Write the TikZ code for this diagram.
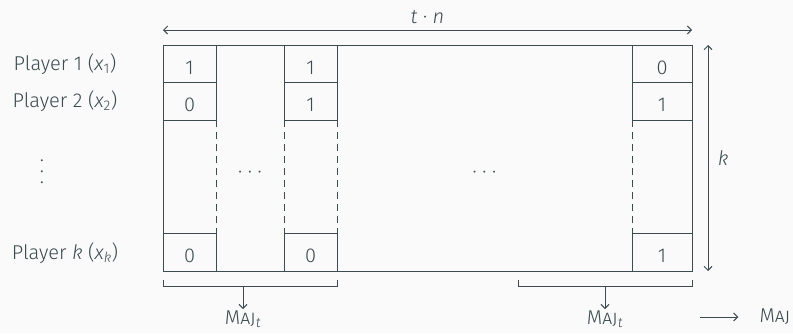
\documentclass[tikz,border=0pt]{standalone}
\usepackage{fontspec}
\setmainfont{Fira Sans}[UprightFont={* Light},ItalicFont={* Light Italic}]
\usetikzlibrary{positioning,arrows.meta}

\definecolor{ink}{HTML}{3B4B50}
\definecolor{paper}{HTML}{FAFAFA}

\newcommand{\maj}{\textsc{Maj}}

\begin{document}
\begin{tikzpicture}[x=1pt,y=-1pt,line width=1pt,color=ink,
  font=\fontsize{20}{23}\selectfont,
  >={Straight Barb[length=4pt,width=8pt]},
  cell/.style={draw,inner sep=0pt,outer sep=0pt,minimum width=53pt,
    minimum height=37.5pt,text height=21pt,text depth=0pt},
  gap/.style={dash pattern=on 7pt off 5pt}]
 % page
 \fill[paper] (0,0) rectangle (793,333);
 \useasboundingbox (0,0) rectangle (793,333);

 % the whole k x tn table
 \node[draw,inner sep=0pt,outer sep=0pt,minimum width=529pt,minimum height=226pt] (grid) at (427.5,158) {};

 \node[cell] (c11) at (189.5,63.75) {1};
 \node[cell] (c21) [below=0pt of c11] {0};
 \node[cell] (ck1) at (189.5,252.25) {0};

 \node[cell] (c12) [right=68pt of c11] {1};
 \node[cell] (c22) [below=0pt of c12] {1};
 \node[cell] (ck2) [right=68pt of ck1] {0};

 \node[cell,minimum width=60pt] (c1n) at (662,63.75) {0};
 \node[cell,minimum width=60pt] (c2n) [below=0pt of c1n] {1};
 \node[cell,minimum width=60pt] (ckn) at (662,252.25) {1};

 \draw[gap] (c21.south east) -- (ck1.north east);
 \draw[gap] (c22.south west) -- (ck2.north west);
 \draw[gap] (c22.south east) -- (ck2.north east);
 \draw[gap] (c2n.south west) -- (ckn.north west);

 \node (dots1) at (250,175) {· · ·};
 \node (dots2) at (484.5,175) {· · ·};

 % players
 \node (p1) at (65,64) {Player 1 (\textit{x}\textsubscript{1})};
 \node (p2) at (65,101) {Player 2 (\textit{x}\textsubscript{2})};
 \node (vd) at (42,172) {\vbox{\baselineskip=11pt\hbox{.}\hbox{.}\hbox{.}}};
 \node (pk) at (65,253) {Player \textit{k} (\textit{x}\textsubscript{\textit{k}})};

 % dimensions
 \draw[<->] ([yshift=15pt]grid.north west) -- ([yshift=15pt]grid.north east)
   node[midway,above=2pt] (tn) {\textit{t} · \textit{n}};
 \draw[<->] ([xshift=16pt]grid.north east) -- ([xshift=16pt]grid.south east)
   node[midway,right=6pt] (k) {\textit{k}};

 % majority over the blocks
 \draw ([yshift=-9pt]ck1.south west) -- ([yshift=-15pt]ck1.south west)
   -- ([yshift=-15pt]ck2.south east) -- ([yshift=-9pt]ck2.south east);
 \coordinate (b1) at (243,286);
 \node[inner ysep=1pt] (mj1) at (243,319) {\maj\textsubscript{\textit{t}}};
 \draw[->] (b1) -- (mj1.north);

 \draw ([xshift=-114pt,yshift=-9pt]ckn.south west) -- ([xshift=-114pt,yshift=-15pt]ckn.south west)
   -- ([yshift=-15pt]ckn.south east) -- ([yshift=-9pt]ckn.south east);
 \coordinate (b2) at (605,286);
 \node[inner ysep=1pt] (mj2) at (605,319) {\maj\textsubscript{\textit{t}}};
 \draw[->] (b2) -- (mj2.north);

 \coordinate (out) at (700,317);
 \node[outer xsep=18pt] (maj) at (775,317) {\maj};
 \draw[->] (out) -- (maj.west);
\end{tikzpicture}
\end{document}
